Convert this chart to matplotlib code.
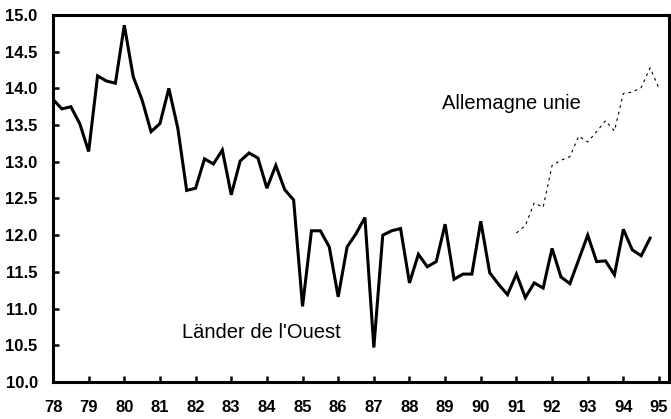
import numpy as np
import matplotlib
matplotlib.use("Agg")
import matplotlib.pyplot as plt

plt.rcParams['font.family'] = ['Liberation Sans', 'DejaVu Sans']

# Quarterly values, Länder de l'Ouest (1978Q1 - 1994Q4)
lander_ouest = [
    13.85, 13.72, 13.75, 13.52,
    13.14, 14.17, 14.10, 14.07,
    14.86, 14.16, 13.84, 13.41,
    13.52, 14.00, 13.46, 12.61,
    12.64, 13.04, 12.97, 13.16,
    12.55, 13.01, 13.12, 13.05,
    12.64, 12.95, 12.62, 12.48,
    11.03, 12.06, 12.06, 11.84,
    11.16, 11.84, 12.02, 12.24,
    10.47, 12.00, 12.06, 12.09,
    11.35, 11.74, 11.57, 11.64,
    12.15, 11.40, 11.47, 11.47,
    12.19, 11.49, 11.33, 11.19,
    11.47, 11.15, 11.35, 11.28,
    11.82, 11.43, 11.34, 11.67,
    12.00, 11.64, 11.65, 11.46,
    12.08, 11.80, 11.72, 11.96,
]
lander_start = 78

# Quarterly values, Allemagne unie (1991Q1 - 1995Q1)
allemagne_unie = [
    12.03, 12.13, 12.44, 12.38,
    12.95, 13.02, 13.07, 13.35,
    13.27, 13.41, 13.56, 13.42,
    13.93, 13.95, 14.01, 14.28,
    14.00,
]
unie_start = 91

year_ticks = list(range(78, 96))
year_labels = [str(y) for y in year_ticks]
y_ticks = [10.0, 10.5, 11.0, 11.5, 12.0, 12.5, 13.0, 13.5, 14.0, 14.5, 15.0]

t_ouest = lander_start + np.arange(len(lander_ouest)) / 4.0
t_unie = unie_start + np.arange(len(allemagne_unie)) / 4.0

fig = plt.figure(figsize=(6.71, 4.19), dpi=100)
ax = fig.add_axes([0.079, 0.0883, 0.918, 0.876])

ax.plot(t_ouest, lander_ouest, color='black', lw=2.2, solid_joinstyle='miter')
ax.plot(t_unie, allemagne_unie, color='black', lw=0.8, linestyle=(0, (2.5, 3.5)))

ax.set_xlim(78, 95.28)
ax.set_ylim(10.0, 15.0)
ax.set_xticks(year_ticks)
ax.set_xticklabels(year_labels, fontsize=12, fontweight='bold')
ax.set_yticks(y_ticks)
ax.set_yticklabels([f"{v:.1f}" for v in y_ticks], fontsize=12, fontweight='bold')
ax.tick_params(axis='both', direction='in', length=4, width=1.8, color='black')
ax.tick_params(axis='x', pad=13)
ax.tick_params(axis='y', pad=11)
for s in ax.spines.values():
    s.set_linewidth(2.2)
    s.set_color('black')

ax.text(88.91, 13.80, "Allemagne unie", fontsize=14.5, va='center', ha='left')
ax.text(81.62, 10.68, "Länder de l'Ouest", fontsize=14.5, va='center', ha='left')

fig.savefig("out.png", dpi=100)
